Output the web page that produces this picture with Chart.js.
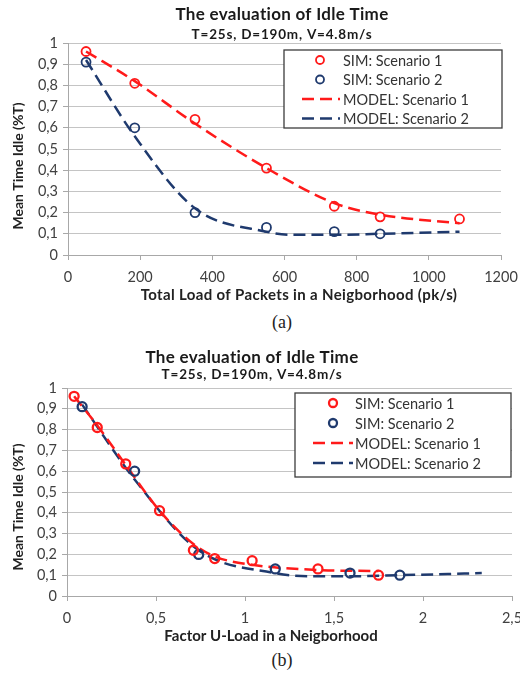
<!DOCTYPE html>
<html>
<head>
<meta charset="utf-8">
<script src="https://cdn.jsdelivr.net/npm/chart.js@4"></script>
<style>
  body{margin:0;background:#fff;width:520px;height:673px;position:relative;overflow:hidden;font-family:Lato,sans-serif}
  .box{position:absolute;left:0;width:520px}
  .cap{position:absolute;width:40px;text-align:center;font-family:"Liberation Serif",serif;font-size:18px;color:#222}
</style>
</head>
<body>
<div class="box" style="top:0;height:305px"><canvas id="chartA" width="520" height="305"></canvas></div>
<div class="cap" style="left:262px;top:312px">(a)</div>
<div class="box" style="top:340px;height:306px"><canvas id="chartB" width="520" height="306"></canvas></div>
<div class="cap" style="left:262px;top:650px">(b)</div>
<script>
// ---- data, chart (a): total load of packets (pk/s)
const loadSim1 = [50, 185, 352, 550, 738, 865, 1085];
const idleSim1 = [0.96, 0.81, 0.64, 0.41, 0.23, 0.18, 0.17];
const loadSim2 = [50, 185, 352, 550, 738, 865];
const idleSim2 = [0.91, 0.60, 0.20, 0.13, 0.11, 0.10];
const loadModel1 = [50, 185, 352, 550, 738, 865, 1085];
const idleModel1 = [0.96, 0.82, 0.62, 0.41, 0.245, 0.19, 0.15];
const loadModel2 = [50, 185, 352, 550, 620, 740, 865, 1085];
const idleModel2 = [0.92, 0.56, 0.22, 0.11, 0.095, 0.095, 0.10, 0.11];

// ---- data, chart (b): factor U-load
const uSim1 = [0.04, 0.17, 0.33, 0.52, 0.71, 0.83, 1.04, 1.41, 1.75];
const uIdleSim1 = [0.96, 0.81, 0.635, 0.41, 0.22, 0.18, 0.17, 0.13, 0.10];
const uSim2 = [0.085, 0.38, 0.74, 1.17, 1.59, 1.87];
const uIdleSim2 = [0.91, 0.60, 0.20, 0.13, 0.11, 0.10];
const uModel1 = [0.04, 0.17, 0.33, 0.52, 0.71, 0.83, 1.04, 1.41, 1.75];
const uIdleModel1 = [0.96, 0.82, 0.63, 0.41, 0.25, 0.19, 0.15, 0.125, 0.12];
const uModel2 = [0.085, 0.38, 0.74, 1.17, 1.35, 1.59, 1.87, 2.33];
const uIdleModel2 = [0.92, 0.56, 0.22, 0.11, 0.095, 0.095, 0.10, 0.11];

const labels = ['SIM: Scenario 1', 'SIM: Scenario 2', 'MODEL: Scenario 1', 'MODEL: Scenario 2'];
const titleText = 'The evaluation of Idle Time';
const subText = 'T=25s, D=190m, V=4.8m/s';
const yTitle = 'Mean Time Idle (%T)';

const RED = '#ff1a1a';
const BLUE = '#1f3a6e';
const GRID = '#c4c4c4';

const pts = (xs, ys) => xs.map((x, i) => ({x: x, y: ys[i]}));
const comma = v => String(Math.round(v * 10) / 10).replace('.', ',');

// chart titles and axis titles, placed like the Excel original
const plotTitles = {
  id: 'plotTitles',
  afterDraw(chart, args, opts){
    const c = chart.ctx;
    c.save();
    c.fillStyle = '#1a1a1a';
    c.textAlign = 'center';
    c.textBaseline = 'middle';
    c.letterSpacing = '0.3px';
    c.font = 'bold 17px Lato';
    c.fillText(titleText, opts.x, opts.y1);
    c.letterSpacing = '0.8px';
    c.font = 'bold 13.5px Lato';
    c.fillText(subText, opts.x, opts.y2);
    c.fillStyle = '#222';
    c.letterSpacing = opts.xSpacing;
    c.font = 'bold 15px Lato';
    c.fillText(opts.xText, opts.xtX, opts.xtY);
    c.letterSpacing = '0px';
    c.font = 'bold 14px Lato';
    c.translate(opts.ytX, opts.ytY);
    c.rotate(-Math.PI / 2);
    c.fillText(yTitle, 0, 0);
    c.restore();
  }
};

// boxed legend sitting inside the plot
const boxLegend = {
  id: 'boxLegend',
  afterDraw(chart, args, opts){
    const c = chart.ctx;
    c.save();
    c.fillStyle = '#fff';
    c.fillRect(opts.x, opts.y, opts.w, opts.h);
    c.strokeStyle = '#3c3c3c';
    c.lineWidth = 1.3;
    c.strokeRect(opts.x, opts.y, opts.w, opts.h);
    c.font = '14.5px Lato';
    c.textBaseline = 'middle';
    chart.data.datasets.forEach((ds, i) => {
      const yy = opts.y + opts.first + i * opts.step;
      if(ds.showLine){
        c.strokeStyle = ds.borderColor;
        c.lineWidth = 2.5;
        c.setLineDash([12, 6]);
        c.beginPath();
        c.moveTo(opts.lx1, yy);
        c.lineTo(opts.lx2, yy);
        c.stroke();
        c.setLineDash([]);
      } else {
        c.strokeStyle = ds.borderColor;
        c.lineWidth = ds.borderWidth;
        c.beginPath();
        c.arc(opts.mx, yy, 4, 0, Math.PI * 2);
        c.stroke();
      }
      c.fillStyle = '#333';
      c.fillText(ds.label, opts.tx, yy + 1);
    });
    c.restore();
  }
};

function makeDatasets(s1, s2, m1, m2, mw){
  return [
    {label: labels[0], data: s1, showLine: false, borderColor: RED, backgroundColor: 'transparent', pointRadius: 4.5, borderWidth: mw, order: 0},
    {label: labels[1], data: s2, showLine: false, borderColor: BLUE, backgroundColor: 'transparent', pointRadius: 4.5, borderWidth: mw, order: 1},
    {label: labels[2], data: m1, showLine: true, borderColor: RED, borderWidth: 2.5, borderDash: [12, 6], pointRadius: 0, cubicInterpolationMode: 'monotone', order: 2},
    {label: labels[3], data: m2, showLine: true, borderColor: BLUE, borderWidth: 2.5, borderDash: [12, 6], pointRadius: 0, cubicInterpolationMode: 'monotone', order: 3}
  ];
}

function makeScales(xMax, xStep, yWidth){
  return {
    x: {
      type: 'linear', min: 0, max: xMax,
      ticks: {stepSize: xStep, color: '#404040', font: {family: 'Lato', size: 14.5}, padding: 9, callback: comma, maxRotation: 0},
      grid: {display: true, drawOnChartArea: false, drawTicks: true, tickLength: 5, color: '#a8a8a8'},
      border: {color: '#a8a8a8'},
      afterFit: a => { a.height = 50; a.paddingLeft = 0; a.paddingRight = 0; }
    },
    y: {
      min: 0, max: 1,
      ticks: {stepSize: 0.1, color: '#404040', font: {family: 'Lato', size: 14.5}, padding: 5, callback: comma},
      grid: {color: GRID, tickLength: 5, tickColor: '#a8a8a8'},
      border: {color: '#a8a8a8'},
      afterFit: a => { a.width = yWidth; a.paddingTop = 0; a.paddingBottom = 0; }
    }
  };
}

new Chart(document.getElementById('chartA'), {
  type: 'scatter',
  data: {datasets: makeDatasets(pts(loadSim1, idleSim1), pts(loadSim2, idleSim2), pts(loadModel1, idleModel1), pts(loadModel2, idleModel2), 1.8)},
  options: {
    responsive: false, animation: false,
    layout: {padding: {top: 43, right: 19, left: 0, bottom: 0}},
    scales: makeScales(1200, 200, 68),
    plugins: {
      legend: {display: false}, title: {display: false}, tooltip: {enabled: false},
      plotTitles: {x: 282, y1: 15, y2: 35, xText: 'Total Load of Packets in a Neigborhood (pk/s)', xtX: 299, xtY: 295, xSpacing: '0.35px', ytX: 18, ytY: 166},
      boxLegend: {x: 284, y: 50, w: 218, h: 78, first: 10, step: 19.5, mx: 320, lx1: 302, lx2: 340, tx: 343}
    }
  },
  plugins: [plotTitles, boxLegend]
});

new Chart(document.getElementById('chartB'), {
  type: 'scatter',
  data: {datasets: makeDatasets(pts(uSim1, uIdleSim1), pts(uSim2, uIdleSim2), pts(uModel1, uIdleModel1), pts(uModel2, uIdleModel2), 2.3)},
  options: {
    responsive: false, animation: false,
    layout: {padding: {top: 48, right: 8, left: 0, bottom: 0}},
    scales: makeScales(2.5, 0.5, 67),
    plugins: {
      legend: {display: false}, title: {display: false}, tooltip: {enabled: false},
      plotTitles: {x: 252, y1: 18, y2: 35, xText: 'Factor U-Load in a Neigborhood', xtX: 271, xtY: 296, xSpacing: '0px', ytX: 18, ytY: 167},
      boxLegend: {x: 295, y: 53, w: 216, h: 84, first: 10, step: 20, mx: 333, lx1: 313, lx2: 353, tx: 355}
    }
  },
  plugins: [plotTitles, boxLegend]
});
</script>
</body>
</html>
